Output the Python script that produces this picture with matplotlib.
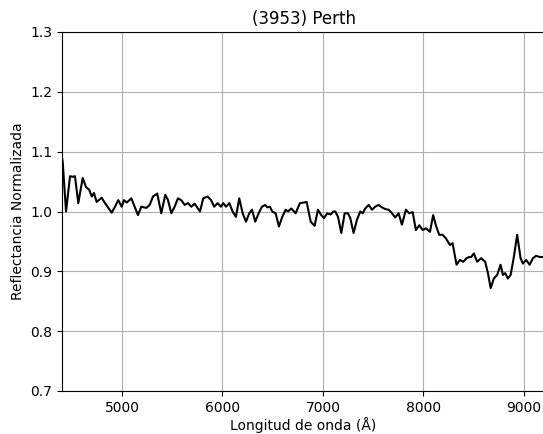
import numpy as np
import matplotlib
matplotlib.use('Agg')
import matplotlib.pyplot as plt

# longitud de onda (A) y reflectancia normalizada
wl = [4403, 4410, 4443, 4483, 4509, 4532, 4565, 4609, 4642, 4675, 4699,
      4721, 4748, 4798, 4831, 4864, 4898, 4930, 4963, 4997, 5020, 5047,
      5093, 5126, 5159, 5192, 5242, 5276, 5308, 5351, 5391, 5431, 5458,
      5491, 5524, 5557, 5590, 5624, 5657, 5690, 5723, 5776, 5809, 5853,
      5886, 5918, 5952, 5985, 6008, 6035, 6068, 6101, 6134, 6167, 6201,
      6234, 6267, 6294, 6326, 6360, 6393, 6426, 6446, 6473, 6495, 6529,
      6562, 6595, 6629, 6652, 6685, 6728, 6771, 6811, 6838, 6878, 6917,
      6950, 6983, 7010, 7043, 7077, 7103, 7123, 7150, 7183, 7216, 7249,
      7272, 7305, 7338, 7371, 7395, 7421, 7455, 7488, 7520, 7554, 7587,
      7620, 7654, 7687, 7719, 7753, 7786, 7826, 7859, 7893, 7925, 7959,
      7992, 8025, 8065, 8097, 8124, 8157, 8191, 8224, 8264, 8290, 8330,
      8363, 8396, 8430, 8456, 8476, 8502, 8535, 8575, 8615, 8642, 8669,
      8701, 8734, 8768, 8791, 8814, 8841, 8868, 8900, 8933, 8967, 8990,
      9023, 9057, 9090, 9122, 9156, 9189]
refl = [1.090, 1.083, 1.000, 1.059, 1.058, 1.059, 1.014, 1.056, 1.041, 1.036, 1.025,
        1.031, 1.016, 1.023, 1.014, 1.006, 0.998, 1.008, 1.019, 1.008, 1.019, 1.015,
        1.022, 1.008, 0.994, 1.008, 1.006, 1.011, 1.025, 1.030, 0.997, 1.028, 1.019,
        0.997, 1.008, 1.022, 1.019, 1.011, 1.014, 1.008, 1.013, 1.000, 1.022, 1.025,
        1.019, 1.008, 1.014, 1.008, 1.014, 1.008, 1.014, 1.000, 0.991, 1.022, 0.997,
        0.983, 0.997, 1.003, 0.983, 0.997, 1.008, 1.011, 1.007, 1.008, 1.000, 0.997,
        0.975, 0.991, 1.003, 1.000, 1.005, 0.997, 1.014, 1.015, 1.016, 0.983, 0.976,
        1.003, 0.994, 0.989, 0.997, 0.995, 1.000, 1.000, 0.991, 0.964, 0.997, 0.997,
        0.989, 0.964, 0.986, 1.000, 0.997, 1.005, 1.011, 1.003, 1.008, 1.011, 1.007,
        1.004, 1.003, 0.997, 0.990, 0.997, 0.978, 1.003, 0.997, 0.999, 0.969, 0.977,
        0.969, 0.972, 0.966, 0.994, 0.977, 0.961, 0.961, 0.955, 0.944, 0.947, 0.911,
        0.919, 0.916, 0.922, 0.924, 0.924, 0.930, 0.916, 0.922, 0.916, 0.897, 0.872,
        0.888, 0.894, 0.911, 0.894, 0.897, 0.888, 0.894, 0.924, 0.961, 0.922, 0.913,
        0.919, 0.911, 0.922, 0.926, 0.924, 0.924]

fig = plt.figure(figsize=(5.43, 4.34), dpi=100)
ax = fig.add_axes([62/543, 43/434, 483/543, 359/434])
ax.plot(wl, refl, color='black', linewidth=1.5)
ax.set_xlim(4403, 9210)
ax.set_ylim(0.7, 1.3)
ax.set_xticks([5000, 6000, 7000, 8000, 9000])
ax.set_xlabel('Longitud de onda (Å)', labelpad=2)
ax.set_ylabel('Reflectancia Normalizada')
ax.set_title('(3953) Perth')
ax.grid()

fig.savefig('out.png', dpi=100)
